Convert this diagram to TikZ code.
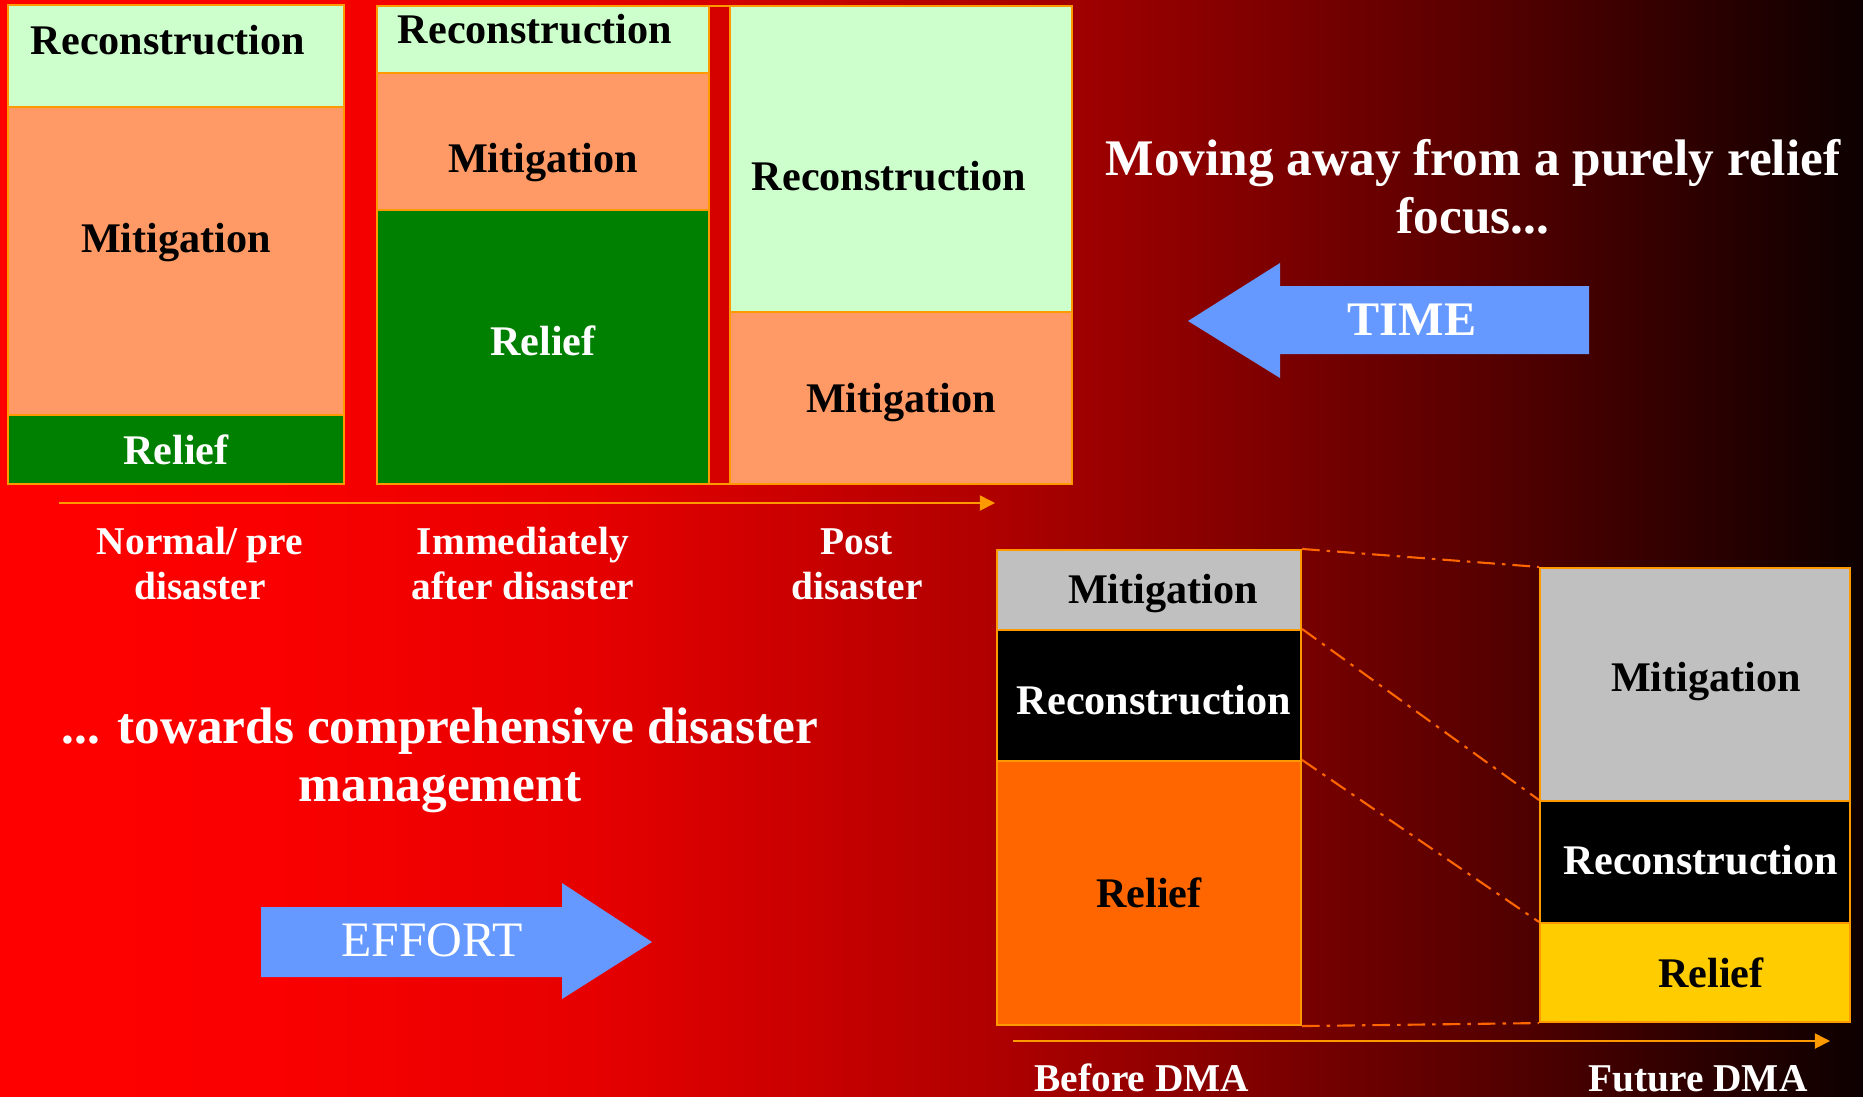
\documentclass[tikz,border=0pt]{standalone}
\usepackage{fontspec}
\setmainfont{Liberation Serif}
\usetikzlibrary{arrows.meta}

\definecolor{recgreen}{HTML}{CCFFCC}
\definecolor{mitsalmon}{HTML}{FF9966}
\definecolor{relgreen}{HTML}{008000}
\definecolor{mitgrey}{HTML}{C0C0C0}
\definecolor{relorange}{HTML}{FF6600}
\definecolor{relyellow}{HTML}{FFCC00}
\definecolor{rim}{HTML}{FF9900}
\definecolor{linkorange}{HTML}{FF6600}
\definecolor{arrowblue}{HTML}{6699FF}
\definecolor{gapred}{HTML}{D50000}

% red to black, left to right (inner 25bp..75bp fills the path)
\pgfdeclarehorizontalshading{bgshade}{100bp}{rgb(0bp)=(1,0,0); rgb(25bp)=(1,0,0);
  rgb(32.5bp)=(0.98,0,0); rgb(41bp)=(0.9,0,0); rgb(51.5bp)=(0.69,0,0);
  rgb(64.5bp)=(0.35,0,0); rgb(75bp)=(0.05,0,0); rgb(100bp)=(0.05,0,0)}

\begin{document}
\begin{tikzpicture}
  [x=0.01cm,y=-0.01cm,every node/.style={inner sep=0pt,font=\bfseries\fontsize{12}{14}\selectfont}]
  \tikzstyle{cell} = [draw=rim,line width=0.6pt,rectangle]
  \tikzstyle{heading} = [text=white,align=center,font=\bfseries\fontsize{14.6}{16.5}\selectfont]
  \tikzstyle{stage} = [text=white,align=center,font=\bfseries\fontsize{11.2}{12.8}\selectfont]
  \tikzstyle{timeline} = [draw=rim,line width=0.5pt,-{Triangle[length=4.3pt,width=4.3pt]}]
  \tikzstyle{link} = [draw=linkorange,line width=0.6pt,dash pattern=on 5pt off 2pt on 1pt off 2pt]

  \useasboundingbox (0,0) rectangle (1863,1096);
  \clip (0,0) rectangle (1863,1096);
  \shade[shading=bgshade] (0,0) rectangle (1863,1096);

  % phases of a disaster
  \node[cell,fill=gapred,minimum width=0.21cm,minimum height=4.78cm] (gap) at (719.5,245) {};
\foreach \nm/\xa/\ya/\xb/\yb/\fc/\tc/\dx/\up/\txt in {
    n1rec/8/5/344/107/recgreen/black/-8/16/Reconstruction,
    n1mit/8/107/344/415/mitsalmon/black/0/18/Mitigation,
    n1rel/8/415/344/484/relgreen/white/0/0/Relief,
    n2rec/377/6/709/73/recgreen/black/-8/10/Reconstruction,
    n2mit/377/73/709/210/mitsalmon/black/0/-21/Mitigation,
    n2rel/377/210/709/484/relgreen/white/0/6/Relief,
    n3rec/730/6/1072/312/recgreen/black/-12/-17/Reconstruction,
    n3mit/730/312/1072/484/mitsalmon/black/0/-5/Mitigation,
    bdmit/997/550/1301/630/mitgrey/black/14/-3/Mitigation,
    bdrec/997/630/1301/761/black/white/5/-5/Reconstruction,
    bdrel/997/761/1301/1025/relorange/black/0/0/Relief,
    fdmit/1540/568/1850/801/mitgrey/black/11/3/Mitigation,
    fdrec/1540/801/1850/923/black/white/6/2/Reconstruction,
    fdrel/1540/923/1850/1022/relyellow/black/16/0/Relief}
   \node[cell,fill=\fc,minimum width=(\xb-\xa)*0.01cm,minimum height=(\yb-\ya)*0.01cm,
         label={[text=\tc,xshift=\dx*0.01cm,yshift=\up*0.01cm]center:\txt}]
         (\nm) at ({(\xa+\xb)/2},{(\ya+\yb)/2}) {};

  \coordinate (ta) at (59,503);
  \coordinate (tb) at (995,503);
  \draw[timeline] (ta) -- (tb);
  \node[stage] (pre) at (200,564) {Normal/ pre\\disaster};
  \node[stage] (imm) at (523,564) {Immediately\\after disaster};
  \node[stage] (post) at (857,564) {Post\\disaster};

  % before and after DMA
\foreach \a/\b in {bdmit.north east/fdmit.north west,bdrec.north east/fdrec.north west,
                   bdrel.north east/fdrel.north west,bdrel.south east/fdrel.south west}
   \draw[link] (\a) -- (\b);
  \coordinate (ba) at (1013,1041);
  \coordinate (bb) at (1830,1041);
  \draw[timeline] (ba) -- (bb);
  \node[stage,anchor=base] (before) at (1142,1091) {Before DMA};
  \node[stage,anchor=base] (future) at (1698,1091) {Future DMA};

  % headings and arrows
  \node[heading] (away) at (1473,187) {Moving away from a purely relief\\focus...};
  \node[heading] (towards) at (440,760) {... towards comprehensive disaster\\management};
  \fill[arrowblue] (1188,321) -- (1280,263) -- (1280,286) -- (1589,286) -- (1589,354)
    -- (1280,354) -- (1280,378) -- cycle;
  \node[text=white,font=\bfseries\fontsize{13.7}{16}\selectfont] (time) at (1412,320) {TIME};
  \fill[arrowblue] (652,942) -- (562,883) -- (562,907) -- (261,907) -- (261,977)
    -- (562,977) -- (562,999) -- cycle;
  \node[text=white,font=\fontsize{14.1}{16}\selectfont] (effort) at (432,940) {EFFORT};
\end{tikzpicture}
\end{document}
